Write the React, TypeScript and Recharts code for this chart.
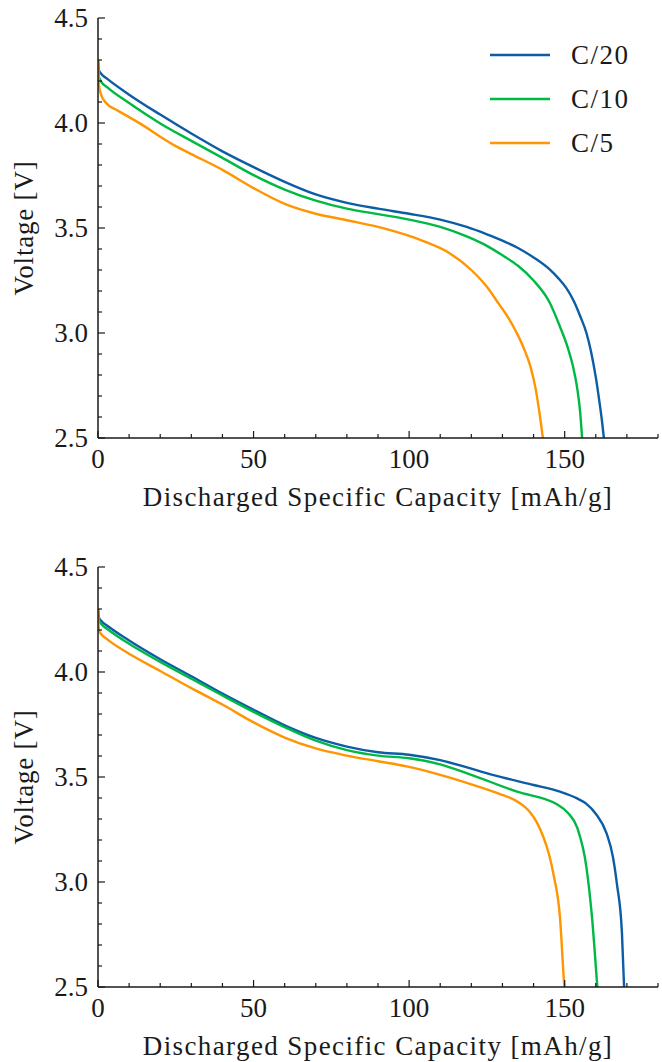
import React from 'react';
import { LineChart, Line, XAxis, YAxis, Legend } from 'recharts';

// ---------- tick definitions ----------
const xTicks = [0, 10, 20, 30, 40, 50, 60, 70, 80, 90, 100, 110, 120, 130, 140, 150, 160, 170, 180];
const xMajor = [0, 50, 100, 150];
const yTicks = [2.5, 2.6, 2.7, 2.8, 2.9, 3.0, 3.1, 3.2, 3.3, 3.4, 3.5, 3.6, 3.7, 3.8, 3.9, 4.0, 4.1, 4.2, 4.3, 4.4, 4.5];
const yMajor = [2.5, 3.0, 3.5, 4.0, 4.5];

const seriesNames = ['C/20', 'C/10', 'C/5'];
const seriesColors = ['#0C5DA5', '#00B945', '#FF9500'];

// ---------- panel a ----------
const aC20Cap = [0, 0.3, 1, 3, 10, 20, 30, 40, 50, 60, 70, 80, 90, 100, 110, 118.5, 125, 130, 135, 140, 145, 148, 150.5, 153, 155, 157, 158.5, 160, 161.2, 162, 162.6];
const aC20V = [4.30, 4.25, 4.235, 4.21, 4.135, 4.04, 3.95, 3.865, 3.79, 3.72, 3.66, 3.62, 3.592, 3.568, 3.54, 3.505, 3.47, 3.44, 3.405, 3.36, 3.305, 3.26, 3.215, 3.15, 3.08, 3.00, 2.91, 2.79, 2.67, 2.58, 2.50];

const aC10Cap = [0, 0.3, 1, 3, 10, 20, 30, 40, 50, 60, 70, 80, 90, 100, 110, 118.5, 125, 130, 135, 140, 145, 148.5, 151, 152.7, 154, 155, 155.6];
const aC10V = [4.30, 4.22, 4.197, 4.17, 4.095, 3.998, 3.915, 3.834, 3.752, 3.683, 3.63, 3.592, 3.566, 3.54, 3.505, 3.46, 3.415, 3.37, 3.32, 3.25, 3.15, 3.03, 2.93, 2.84, 2.74, 2.62, 2.50];

const aC5Cap = [0, 0.3, 1, 2.6, 6, 10, 15, 20, 25, 30, 40, 50, 60, 70, 80, 90, 100, 105, 113, 120, 125, 129, 132, 134.6, 136.8, 139, 140.6, 142, 143];
const aC5V = [4.30, 4.18, 4.135, 4.095, 4.062, 4.028, 3.984, 3.935, 3.89, 3.852, 3.777, 3.69, 3.615, 3.568, 3.537, 3.505, 3.462, 3.435, 3.38, 3.30, 3.22, 3.135, 3.07, 3.00, 2.93, 2.84, 2.74, 2.61, 2.50];

// ---------- panel b ----------
const bC20Cap = [0, 0.3, 1, 3, 10, 20, 30, 40, 50, 60, 70, 80, 90, 100, 110, 120, 124, 130, 140, 148.5, 154, 157, 160, 163.5, 165.5, 166.8, 168.4, 169.1];
const bC20V = [4.30, 4.26, 4.244, 4.22, 4.15, 4.061, 3.98, 3.897, 3.82, 3.746, 3.686, 3.645, 3.618, 3.606, 3.58, 3.54, 3.522, 3.498, 3.462, 3.43, 3.398, 3.372, 3.325, 3.23, 3.12, 2.99, 2.76, 2.50];

const bC10Cap = [0, 0.3, 1, 3, 10, 20, 30, 40, 50, 60, 70, 80, 90, 100, 110, 120, 134.7, 147.5, 151, 154, 157, 158.8, 160.4, 160.5];
const bC10V = [4.30, 4.245, 4.229, 4.205, 4.134, 4.048, 3.968, 3.888, 3.81, 3.737, 3.673, 3.628, 3.602, 3.589, 3.56, 3.51, 3.43, 3.37, 3.33, 3.26, 3.07, 2.83, 2.52, 2.50];

const bC5Cap = [0, 0.3, 1, 3, 10, 20, 30, 40, 50, 60, 70, 80, 90, 100, 110, 120, 129, 134, 137, 139, 141, 143, 145, 146.5, 148.5, 149.8, 149.9];
const bC5V = [4.30, 4.20, 4.181, 4.155, 4.087, 4.005, 3.923, 3.845, 3.76, 3.688, 3.636, 3.602, 3.575, 3.548, 3.51, 3.465, 3.42, 3.39, 3.36, 3.33, 3.285, 3.22, 3.13, 3.03, 2.83, 2.52, 2.50];

const zip = (cap: number[], v: number[]) => cap.map((c, i) => ({ c, v: v[i] }));

const panelA = [zip(aC20Cap, aC20V), zip(aC10Cap, aC10V), zip(aC5Cap, aC5V)];
const panelB = [zip(bC20Cap, bC20V), zip(bC10Cap, bC10V), zip(bC5Cap, bC5V)];

const FONT = '"Liberation Serif", "DejaVu Serif", serif';
const FS = 27;
const INK = '#1a1a1a';
const MAJOR_LEN = 7;
const MINOR_LEN = 4;

const isMajorX = (v: number) => xMajor.some((m) => Math.abs(m - v) < 1e-6);
const isMajorY = (v: number) => yMajor.some((m) => Math.abs(m - v) < 1e-6);

const BottomTick = (props: any) => {
  const { x, y, payload } = props;
  const major = isMajorX(payload.value);
  return (
    <g>
      <line x1={x} y1={y} x2={x} y2={y - (major ? MAJOR_LEN : MINOR_LEN)} stroke={INK} strokeWidth={1.2} />
      {major && (
        <text x={x} y={y + 30} textAnchor="middle" fontFamily={FONT} fontSize={FS} fill={INK}>
          {payload.value}
        </text>
      )}
    </g>
  );
};

const TopTick = (props: any) => {
  const { x, y, payload } = props;
  const major = isMajorX(payload.value);
  return <line x1={x} y1={y} x2={x} y2={y + (major ? MAJOR_LEN : MINOR_LEN)} stroke={INK} strokeWidth={1.2} />;
};

const LeftTick = (props: any) => {
  const { x, y, payload } = props;
  const major = isMajorY(payload.value);
  return (
    <g>
      <line x1={x} y1={y} x2={x + (major ? MAJOR_LEN : MINOR_LEN)} y2={y} stroke={INK} strokeWidth={1.2} />
      {major && (
        <text x={x - 10} y={y + 9} textAnchor="end" fontFamily={FONT} fontSize={FS} fill={INK}>
          {Number(payload.value).toFixed(1)}
        </text>
      )}
    </g>
  );
};

const RightTick = (props: any) => {
  const { x, y, payload } = props;
  const major = isMajorY(payload.value);
  return <line x1={x} y1={y} x2={x - (major ? MAJOR_LEN : MINOR_LEN)} y2={y} stroke={INK} strokeWidth={1.2} />;
};

const XTitle = (props: any) => {
  const vb = props.viewBox || {};
  const cx = vb.x + vb.width / 2;
  return (
    <text x={cx} y={vb.y + 68} textAnchor="middle" fontFamily={FONT} fontSize={FS} fill={INK} letterSpacing={1.4}>
      Discharged Specific Capacity [mAh/g]
    </text>
  );
};

const YTitle = (props: any) => {
  const vb = props.viewBox || {};
  const cy = vb.y + vb.height / 2;
  const bx = 33;
  return (
    <text
      x={bx}
      y={cy}
      textAnchor="middle"
      fontFamily={FONT}
      fontSize={FS}
      fill={INK}
      letterSpacing={0.8}
      transform={`rotate(-90 ${bx} ${cy})`}
    >
      Voltage [V]
    </text>
  );
};

const Tag = (props: any) => {
  const vb = props.viewBox || {};
  return (
    <text x={vb.x + 17} y={vb.y + 45} fontFamily={FONT} fontSize={FS} fill={INK}>
      {props.tag}
    </text>
  );
};

const LegendBox = () => (
  <div style={{ fontFamily: FONT, fontSize: FS, color: INK }}>
    {seriesNames.map((n, i) => (
      <div key={n} style={{ height: 44, display: 'flex', alignItems: 'center' }}>
        <svg width={60} height={6} style={{ display: 'block' }}>
          <line x1={0} y1={3} x2={60} y2={3} stroke={seriesColors[i]} strokeWidth={2.6} />
        </svg>
        <span style={{ marginLeft: 21, letterSpacing: 1.5, lineHeight: '44px' }}>{n}</span>
      </div>
    ))}
  </div>
);

type PanelProps = {
  series: { c: number; v: number }[][];
  height: number;
  top: number;
  xAxisHeight: number;
  tag: string;
  legend: boolean;
};

const Panel = ({ series, height, top, xAxisHeight, tag, legend }: PanelProps) => (
  <LineChart width={662} height={height} margin={{ top, right: 4, bottom: 0, left: 38 }}>
    <XAxis
      xAxisId="bottom"
      dataKey="c"
      type="number"
      domain={[0, 180]}
      ticks={xTicks}
      interval={0}
      allowDataOverflow
      height={xAxisHeight}
      orientation="bottom"
      axisLine={{ stroke: INK, strokeWidth: 1.5 }}
      tickLine={false}
      tickSize={0}
      tickMargin={0}
      tick={<BottomTick />}
      label={<XTitle />}
    />
    <XAxis
      xAxisId="top"
      dataKey="c"
      type="number"
      domain={[0, 180]}
      ticks={xTicks}
      interval={0}
      allowDataOverflow
      height={0}
      orientation="top"
      axisLine={{ stroke: INK, strokeWidth: 1.5 }}
      tickLine={false}
      tickSize={0}
      tickMargin={0}
      tick={<TopTick />}
      label={<Tag tag={tag} />}
    />
    <YAxis
      yAxisId="left"
      type="number"
      domain={[2.5, 4.5]}
      ticks={yTicks}
      interval={0}
      allowDataOverflow
      width={60}
      orientation="left"
      axisLine={{ stroke: INK, strokeWidth: 1.5 }}
      tickLine={false}
      tickSize={0}
      tickMargin={0}
      tick={<LeftTick />}
      label={<YTitle />}
    />
    <YAxis
      yAxisId="right"
      type="number"
      domain={[2.5, 4.5]}
      ticks={yTicks}
      interval={0}
      allowDataOverflow
      width={0}
      orientation="right"
      axisLine={{ stroke: INK, strokeWidth: 1.5 }}
      tickLine={false}
      tickSize={0}
      tickMargin={0}
      tick={<RightTick />}
    />
    {series.map((d, i) => (
      <Line
        key={seriesNames[i]}
        name={seriesNames[i]}
        data={d}
        dataKey="v"
        xAxisId="bottom"
        yAxisId="left"
        type="monotone"
        stroke={seriesColors[i]}
        strokeWidth={2.4}
        dot={false}
        activeDot={false}
        isAnimationActive={false}
      />
    ))}
    {legend && (
      <Legend
        layout="vertical"
        align="center"
        verticalAlign="middle"
        wrapperStyle={{ left: 490, top: 33, width: 170 }}
        content={<LegendBox />}
      />
    )}
  </LineChart>
);

export default function App() {
  return (
    <div style={{ position: 'absolute', left: 0, top: 0, width: 662, height: 1062, background: '#fff', fontFamily: FONT }}>
      <Panel series={panelA} height={530} top={18} xAxisHeight={92} tag="a)" legend={true} />
      <Panel series={panelB} height={532} top={37} xAxisHeight={75} tag="b)" legend={false} />
    </div>
  );
}
